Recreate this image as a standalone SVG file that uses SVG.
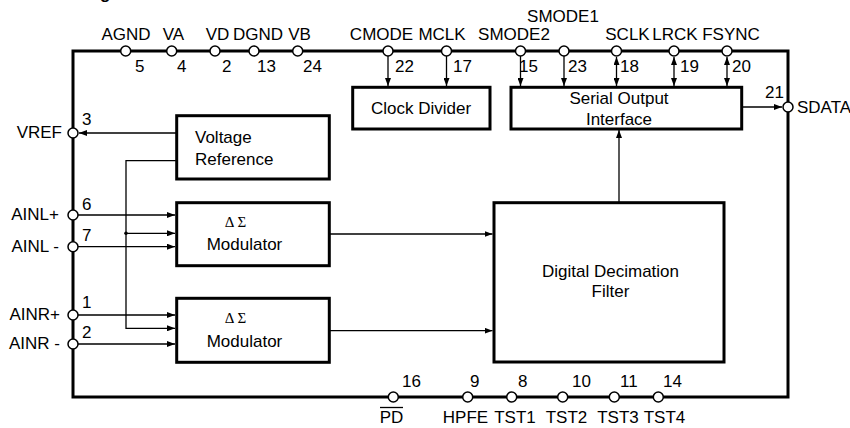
<svg xmlns="http://www.w3.org/2000/svg" width="850" height="428" viewBox="0 0 850 428">
<defs>
<marker id="ah" markerUnits="userSpaceOnUse" markerWidth="8" markerHeight="6" refX="8" refY="3" orient="auto-start-reverse">
<path d="M0,0 L8,3 L0,6 z" fill="#000"/>
</marker>
<style>
text{font-family:"Liberation Sans",Arial,Helvetica,sans-serif;font-size:17px;fill:#000}
.mid{text-anchor:middle}
.end{text-anchor:end}
.greek{font-family:"Liberation Serif","Times New Roman",serif;font-size:15px}
.box{fill:#fff;stroke:#000;stroke-width:3}
.frame{fill:none;stroke:#000;stroke-width:3}
.pin{fill:#fff;stroke:#000;stroke-width:1.5}
.c{fill:none;stroke:#000;stroke-width:1.3}
.a{marker-end:url(#ah)}
.b{marker-end:url(#ah);marker-start:url(#ah)}
</style>
</defs>
<rect width="850" height="428" fill="#fff"/>
<text x="100" y="-1" style="font-weight:bold">g</text>
<g id="frame">
<rect class="frame" x="73" y="51" width="715" height="346"/>
</g>
<g id="connectors">
<line class="c a" x1="388" y1="56" x2="388" y2="86"/>
<line class="c a" x1="446.5" y1="56" x2="446.5" y2="86"/>
<line class="c a" x1="520.5" y1="56" x2="520.5" y2="86"/>
<line class="c a" x1="564" y1="56" x2="564" y2="86"/>
<line class="c b" x1="616.5" y1="57" x2="616.5" y2="86"/>
<line class="c b" x1="674" y1="57" x2="674" y2="86"/>
<line class="c b" x1="727" y1="57" x2="727" y2="86"/>
<line class="c a" x1="742" y1="107" x2="782" y2="107"/>
<line class="c a" x1="619" y1="202" x2="619" y2="130"/>
<line class="c a" x1="176" y1="133" x2="79" y2="133"/>
<line class="c a" x1="78" y1="215" x2="175" y2="215"/>
<line class="c a" x1="78" y1="246.7" x2="175" y2="246.7"/>
<line class="c a" x1="78" y1="315" x2="175" y2="315"/>
<line class="c a" x1="78" y1="344" x2="175" y2="344"/>
<polyline class="c a" points="176,160.7 126,160.7 126,328.3 175,328.3"/>
<line class="c a" x1="126" y1="233.3" x2="175" y2="233.3"/>
<circle cx="126" cy="233.3" r="1.8" fill="#000"/>
<line class="c a" x1="330" y1="234" x2="492.5" y2="234"/>
<line class="c a" x1="330" y1="330.7" x2="492.5" y2="330.7"/>
</g>
<g id="clock-divider">
<rect class="box" x="352.7" y="87.3" width="137.3" height="41.7"/>
<text class="mid" x="421" y="114">Clock Divider</text>
</g>
<g id="serial-output-interface">
<rect class="box" x="511" y="87.3" width="230.7" height="41.7"/>
<text class="mid" x="619" y="104">Serial Output</text>
<text class="mid" x="619" y="125">Interface</text>
</g>
<g id="voltage-reference">
<rect class="box" x="176.7" y="115.7" width="152.6" height="63.3"/>
<text x="195" y="143">Voltage</text>
<text x="195" y="165">Reference</text>
</g>
<g id="modulator-l">
<rect class="box" x="176.7" y="202.7" width="152.6" height="63"/>
<text class="mid greek" x="235.5" y="227">Δ Σ</text>
<text class="mid" x="244.5" y="250">Modulator</text>
</g>
<g id="modulator-r">
<rect class="box" x="176.7" y="298.3" width="152.6" height="64"/>
<text class="mid greek" x="235.5" y="323">Δ Σ</text>
<text class="mid" x="244.5" y="347">Modulator</text>
</g>
<g id="decimation-filter">
<rect class="box" x="494" y="202.7" width="230" height="159.3"/>
<text class="mid" x="610.5" y="276.7">Digital Decimation</text>
<text class="mid" x="610.5" y="296.7">Filter</text>
</g>
<g id="pins-top">
<circle class="pin" cx="125.7" cy="51" r="5"/>
<circle class="pin" cx="171.7" cy="51" r="5"/>
<circle class="pin" cx="215" cy="51" r="5"/>
<circle class="pin" cx="254" cy="51" r="5"/>
<circle class="pin" cx="297.7" cy="51" r="5"/>
<circle class="pin" cx="388" cy="51" r="5"/>
<circle class="pin" cx="446.5" cy="51" r="5"/>
<circle class="pin" cx="520.5" cy="51" r="5"/>
<circle class="pin" cx="564" cy="51" r="5"/>
<circle class="pin" cx="616.5" cy="51" r="5"/>
<circle class="pin" cx="674" cy="51" r="5"/>
<circle class="pin" cx="727" cy="51" r="5"/>
<text class="mid" x="126" y="40">AGND</text>
<text class="mid" x="173.5" y="40">VA</text>
<text class="mid" x="217.5" y="40">VD</text>
<text class="mid" x="258" y="40">DGND</text>
<text class="mid" x="299.5" y="40">VB</text>
<text class="mid" x="381.5" y="40">CMODE</text>
<text class="mid" x="442" y="40">MCLK</text>
<text class="mid" x="514" y="40">SMODE2</text>
<text class="mid" x="563" y="22">SMODE1</text>
<text class="mid" x="627.5" y="40">SCLK</text>
<text class="mid" x="675" y="40">LRCK</text>
<text class="mid" x="731" y="40">FSYNC</text>
<text x="135" y="72">5</text>
<text x="177" y="72">4</text>
<text x="222" y="72">2</text>
<text x="257" y="72">13</text>
<text x="303" y="72">24</text>
<text x="395" y="72">22</text>
<text x="453" y="72">17</text>
<text x="519" y="72">15</text>
<text x="568" y="72">23</text>
<text x="620" y="72">18</text>
<text x="680" y="72">19</text>
<text x="732" y="72">20</text>
</g>
<g id="pins-right">
<circle class="pin" cx="788" cy="107" r="5"/>
<text x="765" y="98">21</text>
<text x="797" y="113">SDATA</text>
</g>
<g id="pins-left">
<circle class="pin" cx="73" cy="133" r="5"/>
<circle class="pin" cx="73" cy="215" r="5"/>
<circle class="pin" cx="73" cy="246.7" r="5"/>
<circle class="pin" cx="73" cy="315" r="5"/>
<circle class="pin" cx="73" cy="344" r="5"/>
<text class="end" x="62" y="138">VREF</text>
<text class="end" x="59" y="220">AINL+</text>
<text class="end" x="59" y="252">AINL -</text>
<text class="end" x="60" y="320">AINR+</text>
<text class="end" x="60" y="349">AINR -</text>
<text x="82" y="125">3</text>
<text x="82" y="210">6</text>
<text x="82" y="241">7</text>
<text x="82" y="308">1</text>
<text x="82" y="338">2</text>
</g>
<g id="pins-bottom">
<circle class="pin" cx="393.3" cy="397" r="5"/>
<circle class="pin" cx="467.7" cy="397" r="5"/>
<circle class="pin" cx="511.7" cy="397" r="5"/>
<circle class="pin" cx="562.7" cy="397" r="5"/>
<circle class="pin" cx="614.3" cy="397" r="5"/>
<circle class="pin" cx="658.3" cy="397" r="5"/>
<text x="402" y="387">16</text>
<text x="470" y="387">9</text>
<text x="518" y="387">8</text>
<text x="572" y="387">10</text>
<text x="620" y="387">11</text>
<text x="663" y="387">14</text>
<text class="mid" x="391.5" y="423">PD</text>
<line x1="380" y1="407.5" x2="403" y2="407.5" stroke="#000" stroke-width="1.3"/>
<text class="mid" x="465.5" y="423">HPFE</text>
<text class="mid" x="515" y="423">TST1</text>
<text class="mid" x="566.5" y="423">TST2</text>
<text class="mid" x="618" y="423">TST3</text>
<text class="mid" x="664.5" y="423">TST4</text>
</g>
</svg>
